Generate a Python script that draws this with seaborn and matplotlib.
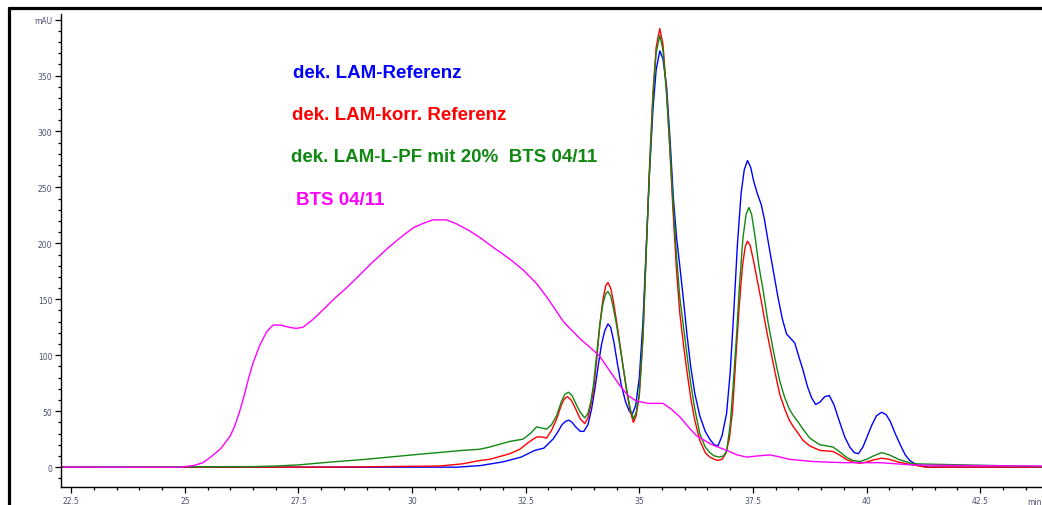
import numpy as np
import matplotlib
matplotlib.use("Agg")
import matplotlib.pyplot as plt
from matplotlib.lines import Line2D
from matplotlib.ticker import MultipleLocator
import seaborn as sns
import pandas as pd

# --- chromatogram traces (retention time in min, signal in mAU) ---
blue_x = [22.27, 30.0, 31.0, 31.5, 32.0, 32.4, 32.7, 32.9, 33.1, 33.2, 33.3, 33.38, 33.45,
          33.52, 33.6, 33.7, 33.78, 33.87, 33.95, 34.03, 34.1, 34.17, 34.24, 34.31, 34.37,
          34.44, 34.52, 34.6, 34.7, 34.78, 34.84, 34.92, 35.0, 35.08, 35.15, 35.22, 35.3,
          35.37, 35.45, 35.52, 35.6, 35.68, 35.75, 35.82, 35.89, 35.97, 36.05, 36.13, 36.22,
          36.33, 36.45, 36.55, 36.65, 36.73, 36.82, 36.92, 37.0, 37.08, 37.16, 37.24, 37.31,
          37.38, 37.45, 37.52, 37.6, 37.68, 37.75, 37.85, 37.95, 38.05, 38.15, 38.24, 38.33,
          38.42, 38.5, 38.6, 38.7, 38.79, 38.88, 38.97, 39.08, 39.18, 39.28, 39.41, 39.52,
          39.63, 39.73, 39.82, 39.92, 40.02, 40.12, 40.22, 40.33, 40.43, 40.52, 40.62, 40.73,
          40.85, 40.95, 41.06, 41.2, 41.35, 43.86]
blue_y = [0, 0, 0, 1.4, 4.7, 9, 15, 17, 25, 31, 38, 41, 42,
          40, 36, 32, 32, 38, 52, 72, 92, 110, 122, 128, 125,
          112, 92, 74, 58, 50, 47, 55, 80, 130, 195, 260, 320,
          355, 372, 365, 340, 290, 240, 205, 180, 150, 118, 90, 66,
          46, 32, 25, 20, 19, 28, 48, 85, 140, 200, 245, 266,
          274, 268, 255, 244, 235, 222, 198, 175, 152, 132, 119, 115,
          111, 100, 87, 72, 62, 56, 58, 63, 64, 56, 40, 27,
          18, 13, 12, 18, 28, 38, 46, 49, 47, 41, 31, 21,
          11, 6, 3, 1, 0, 0]

red_x = [22.27, 28.2, 30.6, 31.12, 31.5, 31.71, 32.15, 32.37, 32.59, 32.74, 32.85, 32.96,
         33.07, 33.18, 33.28, 33.35, 33.42, 33.5, 33.6, 33.7, 33.8, 33.87, 33.93, 33.99,
         34.06, 34.13, 34.2, 34.26, 34.31, 34.37, 34.43, 34.5, 34.58, 34.65, 34.72, 34.8,
         34.87, 34.93, 35.0, 35.08, 35.15, 35.22, 35.3, 35.37, 35.45, 35.52, 35.6, 35.67,
         35.74, 35.82, 35.89, 35.97, 36.05, 36.13, 36.22, 36.33, 36.45, 36.55, 36.65, 36.73,
         36.82, 36.9, 36.98, 37.05, 37.12, 37.2, 37.27, 37.33, 37.38, 37.44, 37.52, 37.6,
         37.69, 37.8, 37.91, 38.0, 38.09, 38.2, 38.3, 38.39, 38.5, 38.6, 38.75, 38.97,
         39.12, 39.26, 39.4, 39.55, 39.7, 39.85, 40.0, 40.15, 40.33, 40.5, 40.7, 41.02,
         41.3, 43.86]
red_y = [0, 0, 1, 3, 6, 7, 12, 16, 23, 27, 27, 26,
         33, 43, 55, 61, 63, 60, 52, 43, 39, 44, 55, 68,
         95, 127, 150, 162, 165, 160, 148, 130, 108, 88, 68, 50,
         40, 46, 64, 115, 190, 265, 335, 375, 392, 378, 335, 285,
         230, 175, 138, 110, 85, 62, 42, 24, 13, 9, 7, 6,
         7, 12, 25, 50, 95, 145, 180, 197, 202, 198, 183, 166,
         147, 122, 100, 82, 65, 52, 42, 36, 30, 24, 19, 15,
         14.5, 14, 11, 7, 4.5, 3.5, 4.5, 6.5, 8, 7, 4.5, 2,
         0, 0]

green_x = [22.27, 26.5, 27.0, 27.5, 28.19, 28.92, 30.02, 31.12, 31.49, 31.71, 32.15, 32.44,
           32.6, 32.74, 32.85, 32.96, 33.07, 33.18, 33.28, 33.36, 33.44, 33.52, 33.6, 33.7,
           33.8, 33.87, 33.93, 33.99, 34.06, 34.13, 34.2, 34.26, 34.31, 34.37, 34.43, 34.5,
           34.58, 34.65, 34.72, 34.8, 34.87, 34.93, 35.0, 35.08, 35.15, 35.22, 35.3, 35.37,
           35.45, 35.52, 35.6, 35.67, 35.74, 35.82, 35.89, 35.97, 36.05, 36.13, 36.22, 36.33,
           36.45, 36.55, 36.65, 36.77, 36.85, 36.92, 37.0, 37.07, 37.14, 37.2, 37.28, 37.35,
           37.41, 37.47, 37.55, 37.63, 37.72, 37.83, 37.94, 38.02, 38.09, 38.2, 38.3, 38.39,
           38.5, 38.6, 38.75, 38.97, 39.12, 39.26, 39.4, 39.55, 39.7, 39.85, 40.0, 40.15,
           40.33, 40.5, 40.7, 41.02, 43.86]
green_y = [0, 0.5, 1, 2, 4.5, 6.8, 11, 15, 16, 18, 23, 25,
           30, 36, 35, 34, 38, 46, 58, 65, 67, 64, 57, 49,
           44, 48, 58, 73, 100, 127, 146, 155, 157, 153, 142, 127,
           106, 88, 70, 52, 43, 49, 66, 118, 190, 260, 330, 370,
           386, 373, 333, 288, 238, 188, 152, 126, 100, 75, 52, 30,
           18, 13, 10, 9, 10, 14, 38, 76, 118, 160, 205, 226,
           232, 226, 205, 180, 159, 130, 106, 90, 77, 62, 52, 46,
           40, 34, 26, 20, 19, 18, 14, 9, 6, 5, 7, 10,
           13, 11, 7, 3, 0.5]

pink_x = [22.27, 24.9, 25.2, 25.4, 25.6, 25.8, 26.0, 26.1, 26.2, 26.3, 26.4, 26.5, 26.65,
          26.8, 26.94, 27.1, 27.3, 27.45, 27.6, 27.82, 28.05, 28.3, 28.55, 28.78, 29.1,
          29.5, 29.8, 30.03, 30.25, 30.46, 30.76, 31.0, 31.27, 31.5, 31.8, 32.15, 32.45,
          32.74, 33.0, 33.33, 33.69, 34.0, 34.13, 34.35, 34.57, 34.75, 34.94, 35.2, 35.52,
          35.7, 35.89, 36.1, 36.26, 36.6, 36.92, 37.15, 37.36, 37.6, 37.87, 38.1, 38.3,
          38.83, 39.5, 40.29, 41.0, 42.0, 43.86]
pink_y = [0, 0, 1.5, 4, 10, 17, 28, 37, 49, 63, 79, 93, 109,
          121, 127, 127, 125, 124, 125, 132, 141, 151, 160, 169, 182,
          197, 207, 214, 218, 221, 221, 217, 211, 205, 196, 186, 176,
          164, 150, 130, 115, 104, 99, 86, 73, 64, 59, 57, 57,
          52, 45, 35, 28, 20, 15, 11, 9, 10, 11, 9, 7,
          5, 4, 4, 2, 1.5, 1]

series_names = ["dek. LAM-Referenz", "dek. LAM-korr. Referenz",
                "dek. LAM-L-PF mit 20%  BTS 04/11", "BTS 04/11"]
series_colors = ["#0000ff", "#ff0000", "#118811", "#ff00ff"]

x_tick_vals = [22.5, 25, 27.5, 30, 32.5, 35, 37.5, 40, 42.5]
x_tick_labels = ["22.5", "25", "27.5", "30", "32.5", "35", "37.5", "40", "42.5"]
y_tick_vals = [0, 50, 100, 150, 200, 250, 300, 350, 400]
y_tick_labels = ["0", "50", "100", "150", "200", "250", "300", "350", "mAU"]

frames = []
for name, xs, ys in zip(series_names, [blue_x, red_x, green_x, pink_x],
                        [blue_y, red_y, green_y, pink_y]):
    frames.append(pd.DataFrame({"time": xs, "mAU": ys, "trace": name}))
df = pd.concat(frames, ignore_index=True)

sns.set_style("white")
plt.rcParams["font.family"] = ["DejaVu Sans"]

fig = plt.figure(figsize=(10.42, 5.06), dpi=100)
ax = fig.add_axes([0.0583, 0.035, 0.9417, 0.9354])

sns.lineplot(data=df, x="time", y="mAU", hue="trace", hue_order=series_names,
             palette=dict(zip(series_names, series_colors)), estimator=None,
             sort=False, linewidth=1.0, legend=False, ax=ax)

ax.set_xlim(22.27, 43.86)
ax.set_ylim(-18, 405)
ax.set_xlabel("")
ax.set_ylabel("")

ax.set_xticks(x_tick_vals)
ax.set_xticklabels(x_tick_labels)
ax.set_yticks(y_tick_vals)
ax.set_yticklabels(y_tick_labels)
ax.xaxis.set_minor_locator(MultipleLocator(0.5))
ax.yaxis.set_minor_locator(MultipleLocator(10))
ax.tick_params(which="major", direction="out", length=4, width=0.9, color="black",
               labelsize=5.5, labelcolor="#4a5070", pad=2)
ax.tick_params(which="minor", direction="out", length=2.5, width=0.9, color="black")
ax.tick_params(axis="x", which="both", bottom=True)
ax.tick_params(axis="y", which="both", left=True)

for s in ["top", "right"]:
    ax.spines[s].set_visible(False)
for s in ["left", "bottom"]:
    ax.spines[s].set_color("black")
    ax.spines[s].set_linewidth(1.0)

ax.text(43.7, -27, "min", fontsize=5.5, color="#4a5070", ha="center", va="top")

# coloured trace labels
label_pos = [(27.38, 353), (27.36, 315), (27.33, 278), (27.44, 239)]
for name, col, (lx, ly) in zip(series_names, series_colors, label_pos):
    ax.text(lx, ly, name, color=col, fontsize=13.5, fontweight="bold",
            family=["Liberation Sans Narrow", "Liberation Sans", "DejaVu Sans"],
            ha="left", va="center")

# black frame on top and left of the picture
fig.add_artist(Line2D([0.0085, 1.0], [0.9825, 0.9825], color="black", linewidth=2.3,
                      transform=fig.transFigure))
fig.add_artist(Line2D([0.0085, 0.0085], [0.0, 0.9825], color="black", linewidth=2.3,
                      transform=fig.transFigure))

fig.savefig("out.png", dpi=100)
